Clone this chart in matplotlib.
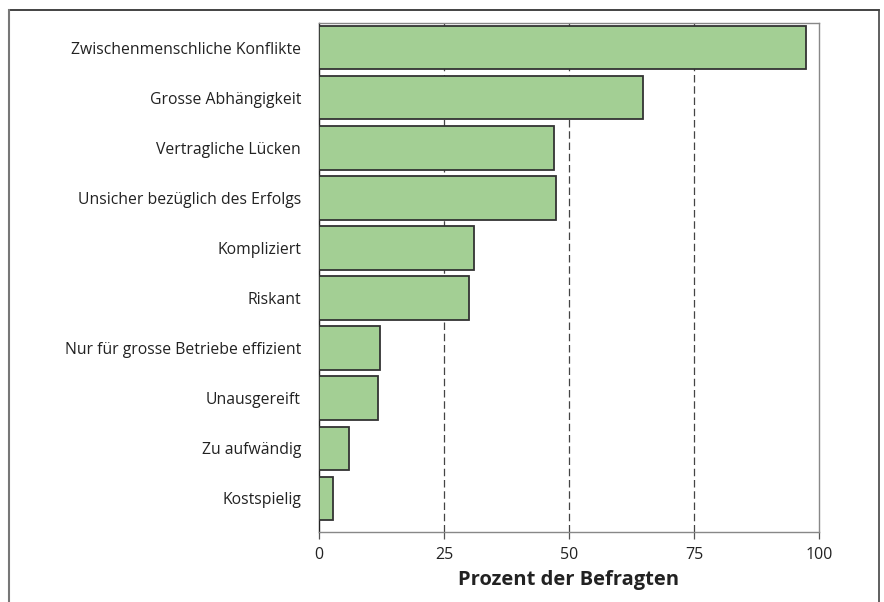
import matplotlib
matplotlib.use("Agg")
from matplotlib import pyplot as plt
from matplotlib.lines import Line2D

# data (percent of respondents)
categories = [
    "Zwischenmenschliche Konflikte",
    "Grosse Abhängigkeit",
    "Vertragliche Lücken",
    "Unsicher bezüglich des Erfolgs",
    "Kompliziert",
    "Riskant",
    "Nur für grosse Betriebe effizient",
    "Unausgereift",
    "Zu aufwändig",
    "Kostspielig",
]
values = [97.4, 64.8, 47.0, 47.4, 31.0, 30.0, 12.2, 11.8, 6.0, 2.8]
xticks = [0, 25, 50, 75, 100]

plt.rcParams["font.family"] = ["Open Sans", "DejaVu Sans"]

fig = plt.figure(figsize=(8.84, 6.02), dpi=100)
ax = fig.add_axes([319 / 884, 1 - 532 / 602, 500 / 884, 509 / 602])

ypos = list(range(len(categories)))
ax.barh(ypos, values, height=0.87, color="#a3cf94", edgecolor="#333333",
        linewidth=1.3, zorder=3)

for g in [25, 50, 75]:
    ax.axvline(g, color="#444444", linestyle=(0, (6, 3)), linewidth=0.9, zorder=1)

ax.set_xlim(0, 100)
ax.set_ylim(len(categories) - 1 + 0.67, -0.49)
ax.set_xticks(xticks)
ax.set_xticklabels([str(t) for t in xticks], fontsize=11.5, color="#222222")
ax.set_yticks(ypos)
ax.set_yticklabels(categories, fontsize=11.3, color="#222222")
ax.tick_params(axis="y", length=0, pad=13)
ax.tick_params(axis="x", direction="out", length=5, width=0.9,
               color="#555555", pad=6)

ax.spines["left"].set_color("#222222")
ax.spines["left"].set_linewidth(1.0)
for s in ["top", "right", "bottom"]:
    ax.spines[s].set_color("#888888")
    ax.spines[s].set_linewidth(1.0)

ax.set_xlabel("Prozent der Befragten", fontsize=14.5, fontweight="bold",
              color="#222222", labelpad=5)

# outer frame (top, left, right; open at the bottom)
W, H = 884, 602
fx0, fx1, fy0 = 8.5 / W, 878.5 / W, 1 - 9.5 / H
fig.add_artist(Line2D([fx0, fx1], [fy0, fy0], transform=fig.transFigure,
                      color="#222222", linewidth=1.2))
fig.add_artist(Line2D([fx0, fx0], [0, fy0], transform=fig.transFigure,
                      color="#777777", linewidth=1.5))
fig.add_artist(Line2D([fx1, fx1], [0, fy0], transform=fig.transFigure,
                      color="#444444", linewidth=1.2))

fig.savefig("out.png", dpi=100)
